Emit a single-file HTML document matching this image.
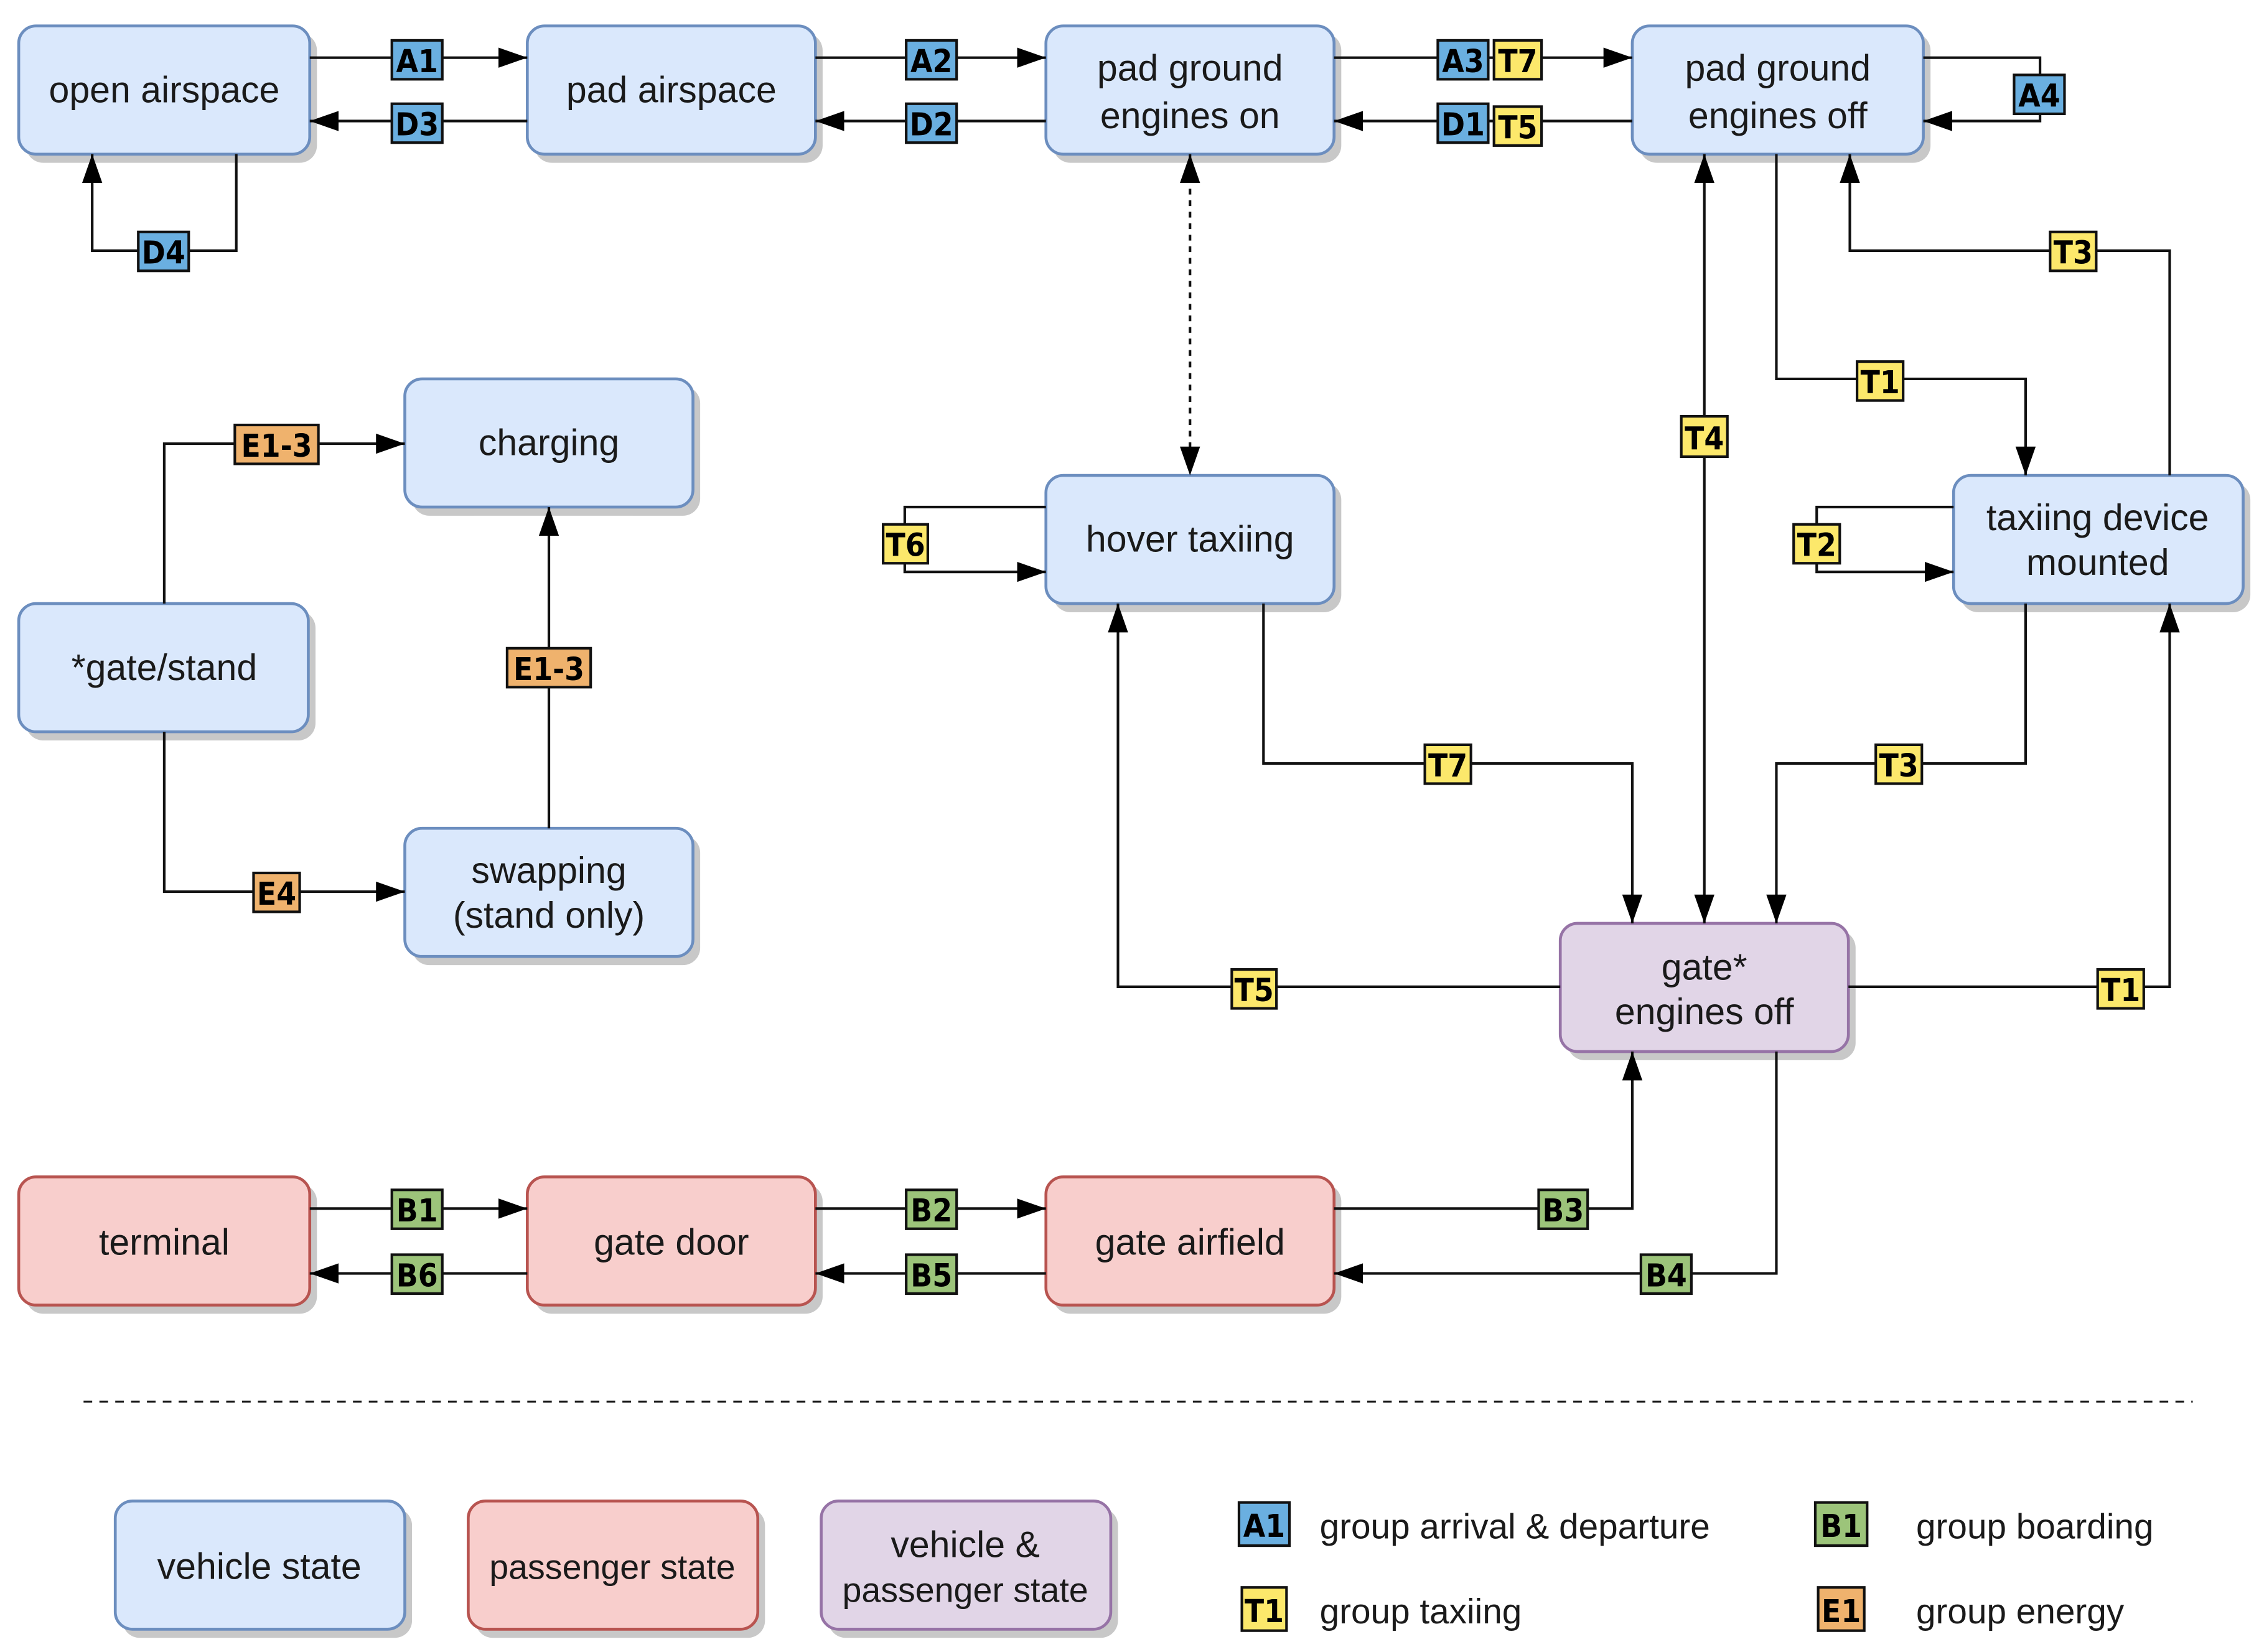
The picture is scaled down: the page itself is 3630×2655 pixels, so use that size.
<!DOCTYPE html>
<html><head><meta charset="utf-8"><style>html,body{margin:0;padding:0;background:#fff}svg{display:block}</style></head><body>
<svg xmlns="http://www.w3.org/2000/svg" width="3630" height="2655" viewBox="0 0 1568 1146.8">
<defs>
<marker id="a" viewBox="0 0 10 10" refX="10" refY="5" markerWidth="20" markerHeight="20" markerUnits="userSpaceOnUse" orient="auto"><path d="M0,1.5 L10,5 L0,8.5 z" fill="#000"/></marker>
<marker id="s" viewBox="0 0 10 10" refX="0" refY="5" markerWidth="20" markerHeight="20" markerUnits="userSpaceOnUse" orient="auto"><path d="M10,1.5 L0,5 L10,8.5 z" fill="#000"/></marker>
</defs>
<style>
.n{stroke-width:2}
.b{fill:#dae8fc;stroke:#6c8ebf}
.r{fill:#f8cecc;stroke:#b85450}
.p{fill:#e1d5e7;stroke:#9673a6}
.sh{fill:#c8c8c8}
.t{font-family:"Liberation Sans",sans-serif;font-size:25.5px;fill:#1a1a1a;text-anchor:middle}
.e{fill:none;stroke:#111;stroke-width:1.8}
.lb{stroke:#111;stroke-width:1.8}
.lt{font-family:"DejaVu Sans Condensed","DejaVu Sans",sans-serif;font-weight:bold;font-size:22px;fill:#000;text-anchor:middle}
.c1{fill:#6aafe0}.c2{fill:#fce86b}.c3{fill:#efb26d}.c4{fill:#9cc47a}
.lg{font-family:"Liberation Sans",sans-serif;font-size:24.5px;fill:#1a1a1a}
</style>

<g class="n">
<rect class="sh" x="18" y="23" width="202" height="90" rx="12"/><rect class="b" x="13" y="18" width="202" height="89" rx="12"/>
<rect class="sh" x="371" y="23" width="200" height="90" rx="12"/><rect class="b" x="366" y="18" width="200" height="89" rx="12"/>
<rect class="sh" x="731" y="23" width="200" height="90" rx="12"/><rect class="b" x="726" y="18" width="200" height="89" rx="12"/>
<rect class="sh" x="1138" y="23" width="202" height="90" rx="12"/><rect class="b" x="1133" y="18" width="202" height="89" rx="12"/>
<rect class="sh" x="286" y="268" width="200" height="90" rx="12"/><rect class="b" x="281" y="263" width="200" height="89" rx="12"/>
<rect class="sh" x="18" y="424" width="201" height="90" rx="12"/><rect class="b" x="13" y="419" width="201" height="89" rx="12"/>
<rect class="sh" x="286" y="580" width="200" height="90" rx="12"/><rect class="b" x="281" y="575" width="200" height="89" rx="12"/>
<rect class="sh" x="731" y="335" width="200" height="90" rx="12"/><rect class="b" x="726" y="330" width="200" height="89" rx="12"/>
<rect class="sh" x="1361" y="335" width="201" height="90" rx="12"/><rect class="b" x="1356" y="330" width="201" height="89" rx="12"/>
<rect class="sh" x="1088" y="646" width="200" height="90" rx="12"/><rect class="p" x="1083" y="641" width="200" height="89" rx="12"/>
<rect class="sh" x="18" y="822" width="202" height="90" rx="12"/><rect class="r" x="13" y="817" width="202" height="89" rx="12"/>
<rect class="sh" x="371" y="822" width="200" height="90" rx="12"/><rect class="r" x="366" y="817" width="200" height="89" rx="12"/>
<rect class="sh" x="731" y="822" width="200" height="90" rx="12"/><rect class="r" x="726" y="817" width="200" height="89" rx="12"/>
<rect class="sh" x="85" y="1047" width="201" height="90" rx="12"/><rect class="b" x="80" y="1042" width="201" height="89" rx="12"/>
<rect class="sh" x="330" y="1047" width="201" height="90" rx="12"/><rect class="r" x="325" y="1042" width="201" height="89" rx="12"/>
<rect class="sh" x="575" y="1047" width="201" height="90" rx="12"/><rect class="p" x="570" y="1042" width="201" height="89" rx="12"/>
</g>

<g class="t">
<text x="114" y="71">open airspace</text>
<text x="466" y="71">pad airspace</text>
<text x="826" y="56">pad ground</text><text x="826" y="89">engines on</text>
<text x="1234" y="56">pad ground</text><text x="1234" y="89">engines off</text>
<text x="381" y="316">charging</text>
<text x="114" y="472">*gate/stand</text>
<text x="381" y="613">swapping</text><text x="381" y="644">(stand only)</text>
<text x="826" y="383">hover taxiing</text>
<text x="1456" y="368">taxiing device</text><text x="1456" y="399">mounted</text>
<text x="1183" y="680">gate*</text><text x="1183" y="711">engines off</text>
<text x="114" y="871">terminal</text>
<text x="466" y="871">gate door</text>
<text x="826" y="871">gate airfield</text>
<text x="180" y="1096">vehicle state</text>
<text x="425" y="1096" style="font-size:24px">passenger state</text>
<text x="670" y="1081">vehicle &amp;</text><text x="670" y="1112" style="font-size:24px">passenger state</text>
</g>

<g class="e">
<path d="M215,40 H366" marker-end="url(#a)"/>
<path d="M366,84 H215" marker-end="url(#a)"/>
<path d="M164,107 V174 H64 V107" marker-end="url(#a)"/>
<path d="M566,40 H726" marker-end="url(#a)"/>
<path d="M726,84 H566" marker-end="url(#a)"/>
<path d="M926,40 H1133" marker-end="url(#a)"/>
<path d="M1133,84 H926" marker-end="url(#a)"/>
<path d="M1335,40 H1416 V84 H1335" marker-end="url(#a)"/>
<path d="M826,107 V330" stroke-dasharray="4,4" marker-start="url(#s)" marker-end="url(#a)"/>
<path d="M1183,107 V641" marker-start="url(#s)" marker-end="url(#a)"/>
<path d="M1233,107 V263 H1406 V330" marker-end="url(#a)"/>
<path d="M1506,330 V174 H1284 V107" marker-end="url(#a)"/>
<path d="M726,352 H628 V397 H726" marker-end="url(#a)"/>
<path d="M1356,352 H1261 V397 H1356" marker-end="url(#a)"/>
<path d="M877,419 V530 H1133 V641" marker-end="url(#a)"/>
<path d="M1406,419 V530 H1233 V641" marker-end="url(#a)"/>
<path d="M1083,685 H776 V419" marker-end="url(#a)"/>
<path d="M1283,685 H1506 V419" marker-end="url(#a)"/>
<path d="M114,419 V308 H281" marker-end="url(#a)"/>
<path d="M381,575 V352" marker-end="url(#a)"/>
<path d="M114,508 V619 H281" marker-end="url(#a)"/>
<path d="M215,839 H366" marker-end="url(#a)"/>
<path d="M366,884 H215" marker-end="url(#a)"/>
<path d="M566,839 H726" marker-end="url(#a)"/>
<path d="M726,884 H566" marker-end="url(#a)"/>
<path d="M926,839 H1133 V730" marker-end="url(#a)"/>
<path d="M1233,730 V884 H926" marker-end="url(#a)"/>
<path d="M58,973 H1522" stroke-dasharray="6,5" stroke-width="1.4"/>
</g>

<g>
<rect class="lb c1" x="272" y="28" width="35" height="27"/><text class="lt" x="289.5" y="50">A1</text>
<rect class="lb c1" x="272" y="72" width="35" height="27"/><text class="lt" x="289.5" y="94">D3</text>
<rect class="lb c1" x="96" y="161" width="35" height="27"/><text class="lt" x="113.5" y="183">D4</text>
<rect class="lb c1" x="629" y="28" width="35" height="27"/><text class="lt" x="646.5" y="50">A2</text>
<rect class="lb c1" x="629" y="72" width="35" height="27"/><text class="lt" x="646.5" y="94">D2</text>
<rect class="lb c1" x="998" y="28" width="35" height="27"/><text class="lt" x="1015.5" y="50">A3</text>
<rect class="lb c2" x="1037" y="28" width="33" height="27"/><text class="lt" x="1053.5" y="50">T7</text>
<rect class="lb c1" x="998" y="72" width="35" height="27"/><text class="lt" x="1015.5" y="94">D1</text>
<rect class="lb c2" x="1037" y="74" width="33" height="27"/><text class="lt" x="1053.5" y="96">T5</text>
<rect class="lb c1" x="1398" y="52" width="35" height="27"/><text class="lt" x="1415.5" y="74">A4</text>
<rect class="lb c2" x="1167" y="289" width="32" height="28"/><text class="lt" x="1183" y="312">T4</text>
<rect class="lb c2" x="1289" y="251" width="32" height="27"/><text class="lt" x="1305" y="273">T1</text>
<rect class="lb c2" x="1423" y="161" width="32" height="27"/><text class="lt" x="1439" y="183">T3</text>
<rect class="lb c2" x="613" y="364" width="31" height="27"/><text class="lt" x="628.5" y="386">T6</text>
<rect class="lb c2" x="1245" y="364" width="32" height="27"/><text class="lt" x="1261" y="386">T2</text>
<rect class="lb c2" x="989" y="517" width="32" height="27"/><text class="lt" x="1005" y="539">T7</text>
<rect class="lb c2" x="1302" y="517" width="32" height="27"/><text class="lt" x="1318" y="539">T3</text>
<rect class="lb c2" x="855" y="673" width="31" height="27"/><text class="lt" x="870.5" y="695">T5</text>
<rect class="lb c2" x="1456" y="673" width="32" height="27"/><text class="lt" x="1472" y="695">T1</text>
<rect class="lb c3" x="163" y="295" width="58" height="27"/><text class="lt" x="192" y="317">E1-3</text>
<rect class="lb c3" x="352" y="450" width="58" height="27"/><text class="lt" x="381" y="472">E1-3</text>
<rect class="lb c3" x="176" y="606" width="32" height="27"/><text class="lt" x="192" y="628">E4</text>
<rect class="lb c4" x="272" y="826" width="35" height="27"/><text class="lt" x="289.5" y="848">B1</text>
<rect class="lb c4" x="272" y="871" width="35" height="27"/><text class="lt" x="289.5" y="893">B6</text>
<rect class="lb c4" x="629" y="826" width="35" height="27"/><text class="lt" x="646.5" y="848">B2</text>
<rect class="lb c4" x="629" y="871" width="35" height="27"/><text class="lt" x="646.5" y="893">B5</text>
<rect class="lb c4" x="1068" y="826" width="34" height="27"/><text class="lt" x="1085" y="848">B3</text>
<rect class="lb c4" x="1139" y="871" width="35" height="27"/><text class="lt" x="1156.5" y="893">B4</text>
<rect class="lb c1" x="860" y="1043" width="35" height="30"/><text class="lt" x="877.5" y="1067">A1</text>
<rect class="lb c2" x="862" y="1102" width="31" height="30"/><text class="lt" x="877.5" y="1126">T1</text>
<rect class="lb c4" x="1260" y="1043" width="36" height="30"/><text class="lt" x="1278" y="1067">B1</text>
<rect class="lb c3" x="1262" y="1102" width="32" height="30"/><text class="lt" x="1278" y="1126">E1</text>
<text class="lg" x="916" y="1068">group arrival &amp; departure</text>
<text class="lg" x="916" y="1127">group taxiing</text>
<text class="lg" x="1330" y="1068">group boarding</text>
<text class="lg" x="1330" y="1127">group energy</text>
</g>
</svg>
</body></html>
